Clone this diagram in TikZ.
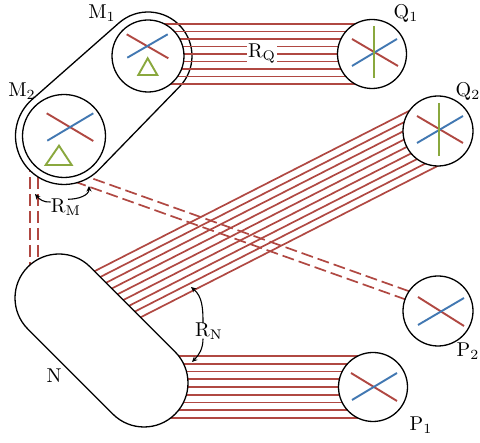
\documentclass[tikz,border=0pt]{standalone}
\usetikzlibrary{calc,arrows.meta}
\definecolor{lred}{RGB}{176,72,66}
\definecolor{lblue}{RGB}{66,120,178}
\definecolor{lgreen}{RGB}{138,168,62}
\begin{document}
\begin{tikzpicture}[x=1pt,y=1pt,
  circ/.style={circle,draw=black,line width=1.3pt,fill=white,inner sep=0pt},
  outline/.style={draw=black,line width=1.3pt,fill=white},
  bundle/.style={lred,line width=1.7pt},
  dashbundle/.style={lred,line width=1.7pt,dash pattern=on 12pt off 5pt},
  xred/.style={lred,line width=1.9pt},
  xblue/.style={lblue,line width=1.9pt},
  xgreen/.style={lgreen,line width=1.9pt},
  lbl/.style={font=\normalsize,scale=2.0,inner sep=0.5pt},
  curvarrow/.style={black,line width=1.1pt,-{Stealth[length=5.5pt,width=5pt]}}
]
\useasboundingbox (0,0) rectangle (480,443);

% centres
\coordinate (M1c) at (148,387);
\coordinate (M2c) at (64,307);
\coordinate (Q1c) at (372,389);
\coordinate (Q2c) at (438,312);
\coordinate (P2c) at (438,132);
\coordinate (P1c) at (373,56);
\coordinate (Na) at (59,145);
\coordinate (Nb) at (144,60);

% dashed vertical lines M -- N
\coordinate (mv1) at (30,283);   \coordinate (nv1) at (30,153);
\coordinate (mv2) at (37.7,283); \coordinate (nv2) at (37.7,153);
\draw[dashbundle] (mv1) -- (nv1);
\draw[dashbundle] (mv2) -- (nv2);

% dashed diagonal lines M -- P2
\coordinate (Mp) at ($(P2c)+(160.4:410)$);
\foreach \o in {0,8.9}
  \draw[dashbundle] ($(P2c)+(70.4:\o)$) -- ($(Mp)+(70.4:\o)$);

% M capsule
\draw[outline] ($(M1c)+(131.38:44)$) arc[start angle=131.38,end angle=-44.17,radius=44]
  -- ($(M2c)+(-44.17:48.5)$) arc[start angle=-44.17,end angle=-228.62,radius=48.5] -- cycle;

% Q2 -- N bundle
\coordinate (Nq) at ($(Q2c)+(207:390)$);
\foreach \k in {-4,...,4}
  \draw[bundle] ($(Q2c)+(117:\k*7.75)$) -- ($(Nq)+(117:\k*7.75)$);

% P1 -- N bundle
\foreach \k in {-4,...,4}
  \draw[bundle] ($(Nb |- P1c)+(0,\k*7.75)$) -- ($(P1c)+(0,\k*7.75)$);

% N capsule
\draw[outline] ($(Na)+(45:44)$) -- ($(Nb)+(45:44)$)
  arc[start angle=45,end angle=-135,radius=44]
  -- ($(Na)+(-135:44)$) arc[start angle=-135,end angle=-315,radius=44] -- cycle;

% M1 -- Q1 bundle
\foreach \k in {-4,...,4}
  \draw[bundle] ($(M1c |- Q1c)+(0,\k*7.5)$) -- ($(Q1c)+(0,\k*7.5)$);

% circles
\node[circ,minimum size=72pt] (M1) at (M1c) {};
\node[circ,minimum size=83pt] (M2) at (M2c) {};
\node[circ,minimum size=69pt] (Q1) at (Q1c) {};
\node[circ,minimum size=70pt] (Q2) at (Q2c) {};
\node[circ,minimum size=70pt] (P2) at (P2c) {};
\node[circ,minimum size=69pt] (P1) at (P1c) {};

% symbols in M1
\draw[xred] (126.7,408.7) -- (168.3,384.7);
\draw[xblue] (127.3,385.3) -- (167.7,408.7);
\draw[xgreen] (138.3,368) -- (157.3,368) -- (147.7,384.7) -- cycle;
% symbols in M2
\draw[xred] (46.7,329.7) -- (93.3,302);
\draw[xblue] (47.3,302.3) -- (93.3,329.7);
\draw[xgreen] (45.7,278) -- (71.7,278) -- (59,297.3) -- cycle;
% symbols in Q1
\draw[xred] (352,404) -- (398,377);
\draw[xblue] (352,377) -- (397,404);
\draw[xgreen] (374,417) -- (374,365);
% symbols in Q2
\draw[xred] (417,327) -- (463,300);
\draw[xblue] (417,300) -- (463,327);
\draw[xgreen] (439,340) -- (439,287);
% symbols in P2
\draw[xred] (418,146) -- (464,117);
\draw[xblue] (418,118) -- (464,145);
% symbols in P1
\draw[xred] (351,70) -- (397,42);
\draw[xblue] (352,43) -- (397,70);

% labels
\node[lbl] (lM1) at (102,430) {$\mathrm{M}_1$};
\node[lbl] (lM2) at (22,352) {$\mathrm{M}_2$};
\node[lbl] (lQ1) at (406,429) {$\mathrm{Q}_1$};
\node[lbl] (lQ2) at (468,351) {$\mathrm{Q}_2$};
\node[lbl] (lP2) at (468,92) {$\mathrm{P}_2$};
\node[lbl] (lP1) at (421,18) {$\mathrm{P}_1$};
\node[lbl] (lN) at (54,67) {$\mathrm{N}$};
\node[lbl,fill=white] (RQ) at (262,389) {$\mathrm{R}_{\mathrm{Q}}$};
\node[lbl] (RM) at (66,236) {$\mathrm{R}_{\mathrm{M}}$};
\node[lbl] (RN) at (209,112) {$\mathrm{R}_{\mathrm{N}}$};

% angle arrows
\coordinate (tipM1) at (35,249);
\coordinate (tipM2) at (89,257);
\coordinate (tipN1) at (191,156);
\coordinate (tipN2) at (192,81);
\draw[curvarrow] ($(RM.west)+(1,5)$) to[out=185,in=-50] (tipM1);
\draw[curvarrow] ($(RM.north)+(2,-2)$) to[out=0,in=-90] (tipM2);
\draw[curvarrow] ($(RN.north)+(-6,-2)$) to[out=90,in=-40] (tipN1);
\draw[curvarrow] ($(RN.south)+(-6,2)$) to[out=-90,in=45] (tipN2);
\end{tikzpicture}
\end{document}
